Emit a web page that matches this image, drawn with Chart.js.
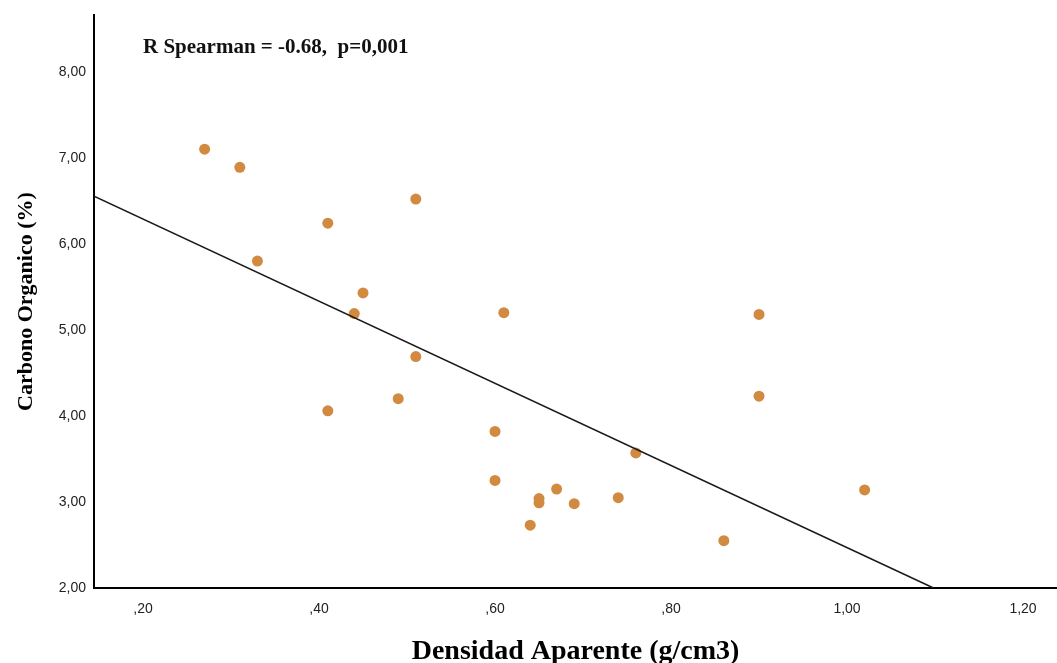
<!DOCTYPE html>
<html>
<head>
<meta charset="utf-8">
<script src="https://cdn.jsdelivr.net/npm/chart.js@4/dist/chart.umd.min.js"></script>
<style>
  html, body { margin: 0; padding: 0; background: #fff; }
  #wrap { width: 1057px; height: 663px; }
</style>
</head>
<body>
<div id="wrap"><canvas id="chart" width="1057" height="663"></canvas></div>
<script>
// values
const densidad = [0.27, 0.31, 0.33, 0.41, 0.41, 0.45, 0.44, 0.51, 0.51, 0.49, 0.61, 0.60,
  0.60, 0.65, 0.65, 0.67, 0.69, 0.64, 0.74, 0.76, 0.86, 0.90, 0.90, 1.02];
const carbono = [7.10, 6.89, 5.80, 6.24, 4.06, 5.43, 5.19, 6.52, 4.69, 4.20, 5.20, 3.82,
  3.25, 3.04, 2.99, 3.15, 2.98, 2.73, 3.05, 3.57, 2.55, 5.18, 4.23, 3.14];

const xTicks = [0.2, 0.4, 0.6, 0.8, 1.0, 1.2];
const xTickLabels = [",20", ",40", ",60", ",80", "1,00", "1,20"];
const yTicks = [2, 3, 4, 5, 6, 7, 8];
const yTickLabels = ["2,00", "3,00", "4,00", "5,00", "6,00", "7,00", "8,00"];
const xRange = [0.1443, 1.2386];
const yRange = [2, 8.66];

const statText = "R Spearman = -0.68,  p=0,001";
const statPos = [0.2, 8.28];

const pointColor = "#d18a40";

// least squares fit line
function linearFit(xs, ys) {
  const n = xs.length;
  const mx = xs.reduce((a, b) => a + b, 0) / n;
  const my = ys.reduce((a, b) => a + b, 0) / n;
  let sxy = 0, sxx = 0;
  xs.forEach((x, i) => {
    sxy += (x - mx) * (ys[i] - my);
    sxx += (x - mx) * (x - mx);
  });
  const slope = sxy / sxx;
  return { slope, intercept: my - slope * mx };
}

const fit = linearFit(densidad, carbono);
const fitStart = xRange[0];
const fitEnd = Math.min(xRange[1], (yRange[0] - fit.intercept) / fit.slope);
const fitLine = [fitStart, fitEnd].map(x => ({ x, y: fit.intercept + fit.slope * x }));

const statLabel = {
  id: "statLabel",
  afterDatasetsDraw(chart) {
    const { ctx, scales } = chart;
    ctx.save();
    ctx.font = "bold 21px 'Liberation Serif', 'Times New Roman', serif";
    ctx.fillStyle = "#111";
    ctx.textAlign = "left";
    ctx.textBaseline = "middle";
    ctx.fillText(statText, scales.x.getPixelForValue(statPos[0]), scales.y.getPixelForValue(statPos[1]));
    ctx.restore();
  }
};

const tickFont = { family: "'Liberation Sans', Arial, sans-serif", size: 14 };
const titleFont = (size, lineHeight) => ({ family: "'Liberation Serif', 'Times New Roman', serif", size, weight: "bold", lineHeight });

new Chart(document.getElementById("chart"), {
  type: "scatter",
  data: {
    datasets: [
      {
        data: fitLine,
        showLine: true,
        borderColor: "#1a1a1a",
        borderWidth: 1.6,
        pointRadius: 0,
        order: 0
      },
      {
        data: densidad.map((x, i) => ({ x, y: carbono[i] })),
        backgroundColor: pointColor,
        borderWidth: 0,
        pointRadius: 5.5,
        order: 1
      }
    ]
  },
  options: {
    responsive: false,
    animation: false,
    layout: { autoPadding: false, padding: { top: 15, left: 0, right: 0, bottom: 0 } },
    plugins: {
      legend: { display: false },
      tooltip: { enabled: false }
    },
    scales: {
      x: {
        type: "linear",
        min: xRange[0],
        max: xRange[1],
        afterBuildTicks: s => { s.ticks = xTicks.map(v => ({ value: v })); },
        afterFit: s => {
          s.height = 75;
          s.paddingLeft = 0;
          s.paddingRight = 0;
        },
        grid: { display: false, drawTicks: false },
        border: { display: true, color: "#000", width: 2 },
        ticks: {
          padding: 13,
          font: tickFont,
          color: "#222",
          maxRotation: 0,
          callback: v => xTickLabels[xTicks.indexOf(v)]
        },
        title: {
          display: true,
          text: "Densidad Aparente (g/cm3)",
          font: titleFont(28, 0.8),
          color: "#000",
          padding: { top: 0, bottom: 0 }
        }
      },
      y: {
        type: "linear",
        min: yRange[0],
        max: yRange[1],
        afterBuildTicks: s => { s.ticks = yTicks.map(v => ({ value: v })); },
        afterFit: s => {
          s.width = 94;
          s.paddingTop = 0;
          s.paddingBottom = 0;
        },
        grid: { display: false, drawTicks: false },
        border: { display: true, color: "#000", width: 2 },
        ticks: {
          padding: 8,
          font: tickFont,
          color: "#222",
          callback: v => yTickLabels[yTicks.indexOf(v)]
        },
        title: {
          display: true,
          text: "Carbono Organico (%)",
          font: titleFont(22, 1),
          color: "#000",
          padding: { top: 15, bottom: 0 }
        }
      }
    }
  },
  plugins: [statLabel]
});
</script>
</body>
</html>
